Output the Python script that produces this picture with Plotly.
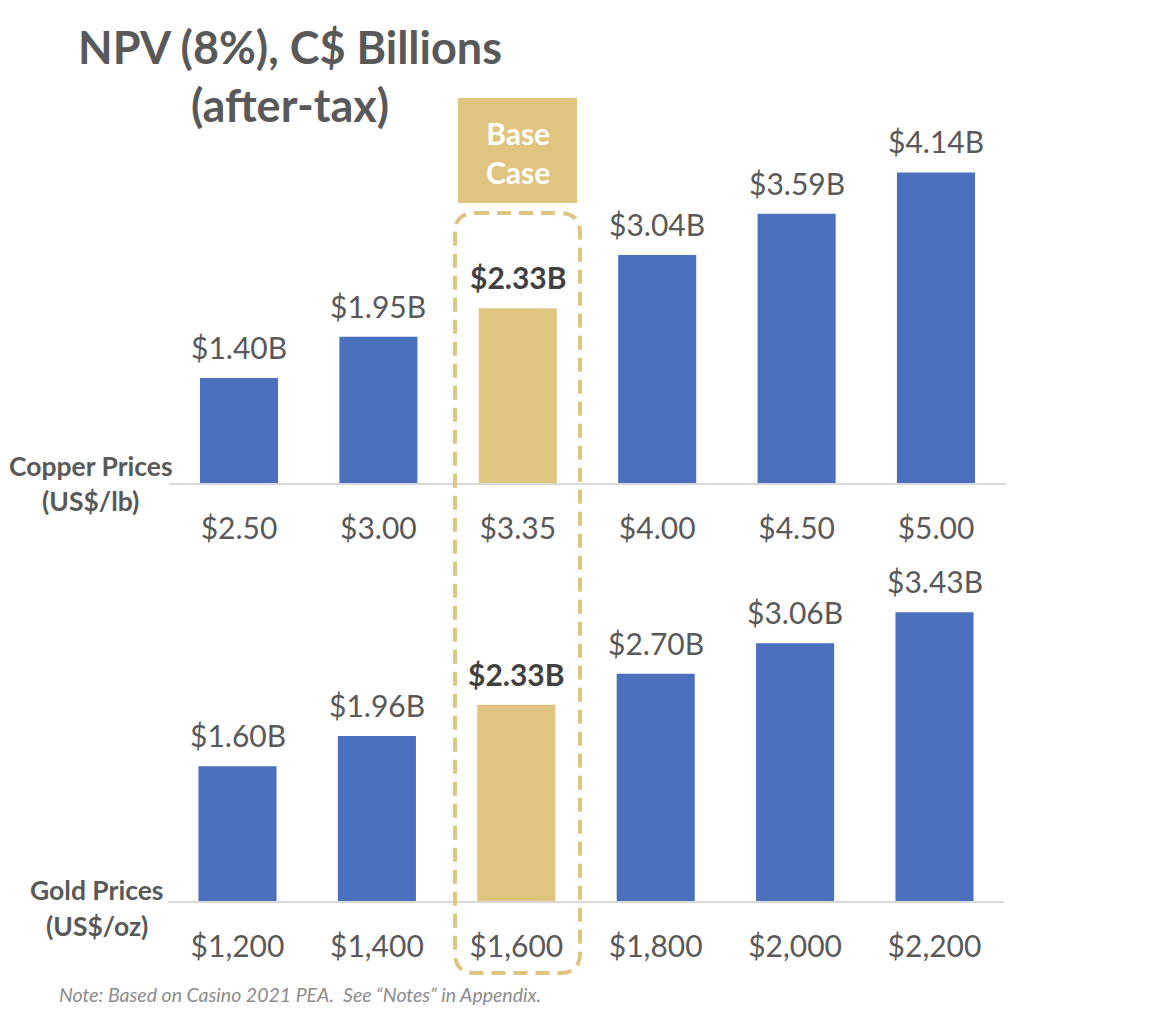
import plotly.graph_objects as go

W, H = 1165, 1013

copper_prices = ["$2.50", "$3.00", "$3.35", "$4.00", "$4.50", "$5.00"]
copper_npv = [1.40, 1.95, 2.33, 3.04, 3.59, 4.14]
gold_prices = ["$1,200", "$1,400", "$1,600", "$1,800", "$2,000", "$2,200"]
gold_npv = [1.60, 1.96, 2.33, 2.70, 3.06, 3.43]
base_index = 2

BLUE = "#4A70BE"
GOLD = "#DFC580"
GRAY = "#595959"
FONT = "Lato"

def px_x(p):
    return p / W

def px_y(p):
    return 1 - p / H

colors_c = [GOLD if i == base_index else BLUE for i in range(len(copper_npv))]
colors_g = [GOLD if i == base_index else BLUE for i in range(len(gold_npv))]

fig = go.Figure()
fig.add_trace(go.Bar(x=copper_prices, y=copper_npv, marker_color=colors_c,
                     marker_line_width=0, xaxis="x", yaxis="y", hoverinfo="skip"))
fig.add_trace(go.Bar(x=gold_prices, y=gold_npv, marker_color=colors_g,
                     marker_line_width=0, xaxis="x2", yaxis="y2", hoverinfo="skip"))

annotations = []
for xs, ys, xr, yr in [(copper_prices, copper_npv, "x", "y"), (gold_prices, gold_npv, "x2", "y2")]:
    for i, (xv, yv) in enumerate(zip(xs, ys)):
        bold = i == base_index
        annotations.append(dict(
            x=xv, y=yv, xref=xr, yref=yr, xanchor="center", yanchor="bottom", yshift=11,
            text=(f"<b>${yv:.2f}B</b>" if bold else f"${yv:.2f}B"),
            showarrow=False,
            font=dict(family=FONT, size=30, color="#404040" if bold else GRAY)))

def paper_text(txt, cx, cy, size, color, xanchor="center"):
    annotations.append(dict(x=px_x(cx), y=px_y(cy), xref="paper", yref="paper",
                            xanchor=xanchor, yanchor="middle",
                            text=txt, showarrow=False,
                            font=dict(family=FONT, size=size, color=color)))

# Title
paper_text("<b>NPV (8%), C$ Billions</b>", 290, 47, 45, GRAY)
paper_text("<b>(after-tax)</b>", 290, 105, 45, GRAY)
# Side labels
for txt, cx, cy in [("Copper Prices", 91, 466), ("(US$/lb)", 90, 501),
                    ("Gold Prices", 97, 890), ("(US$/oz)", 97, 926)]:
    paper_text(f"<b>{txt}</b>", cx, cy, 26.5, GRAY)
# Base case label
paper_text("<b>Base<br>Case</b>", 517.5, 152, 30, "white")
# Note
paper_text("<i>Note: Based on Casino 2021 PEA.  See \u201cNotes\u201d in Appendix.</i>",
           57, 994, 19.5, "#8C8C8C", xanchor="left")

# Shapes
shapes = [dict(type="rect", xref="paper", yref="paper",
               x0=px_x(458), x1=px_x(577), y0=px_y(203), y1=px_y(98),
               fillcolor=GOLD, line_width=0, layer="below")]

x0, x1, y0, y1, r = 455, 580, 213, 973, 20
pts = [
    ("M", (x0 + r, y0)), ("L", (x1 - r, y0)), ("Q", (x1, y0), (x1, y0 + r)),
    ("L", (x1, y1 - r)), ("Q", (x1, y1), (x1 - r, y1)), ("L", (x0 + r, y1)),
    ("Q", (x0, y1), (x0, y1 - r)), ("L", (x0, y0 + r)), ("Q", (x0, y0), (x0 + r, y0)),
]
path = ""
for item in pts:
    cmd = item[0]
    coords = " ".join(f"{px_x(p[0]):.5f},{px_y(p[1]):.5f}" for p in item[1:])
    path += f"{cmd}{coords} "
path += "Z"
shapes.append(dict(type="path", path=path, xref="paper", yref="paper",
                   line=dict(color=GOLD, width=4, dash="14px,8px")))

xax = dict(type="category", showgrid=False, zeroline=False, showline=True,
           linecolor="#D9D9D9", linewidth=2, ticks="", ticklabelstandoff=18,
           tickfont=dict(family=FONT, size=30, color=GRAY), range=[-0.5, 5.5])
yax = dict(visible=False, showgrid=False, zeroline=False)

top_base, top_ppb = 483, 75.0
bot_base, bot_ppb = 901, 84.2
top_max, bot_max = 4.6, 4.0

fig.update_layout(
    width=W, height=H, margin=dict(l=0, r=0, t=0, b=0),
    paper_bgcolor="white", plot_bgcolor="white", showlegend=False,
    bargap=0.44,
    xaxis=dict(xax, domain=[px_x(169.3), px_x(1005.7)], anchor="y"),
    yaxis=dict(yax, domain=[px_y(top_base), px_y(top_base - top_ppb * top_max)],
               range=[0, top_max], anchor="x"),
    xaxis2=dict(xax, domain=[px_x(167.8), px_x(1004.2)], anchor="y2"),
    yaxis2=dict(yax, domain=[px_y(bot_base), px_y(bot_base - bot_ppb * bot_max)],
                range=[0, bot_max], anchor="x2"),
    annotations=annotations, shapes=shapes,
)

fig.write_html("out.html")
